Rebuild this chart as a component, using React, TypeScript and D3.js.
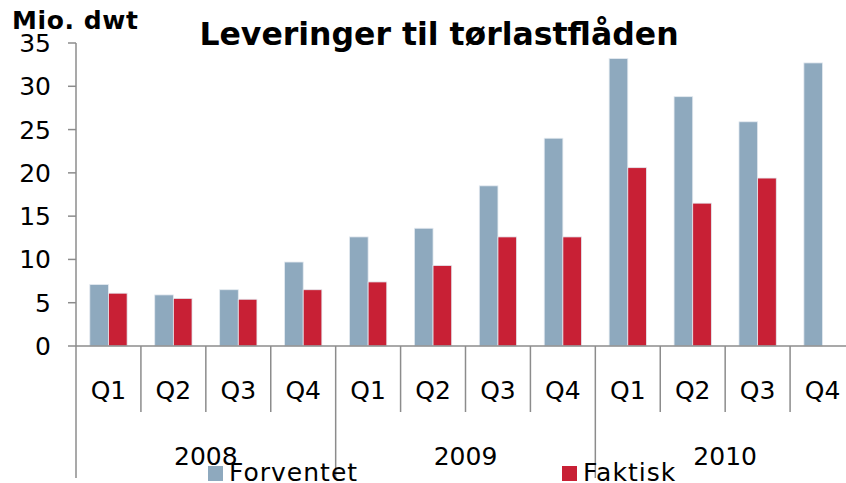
import React from "react";
import * as d3 from "d3";

const quarters = ["Q1", "Q2", "Q3", "Q4", "Q1", "Q2", "Q3", "Q4", "Q1", "Q2", "Q3", "Q4"];
const years = ["2008", "2009", "2010"];
const forventet = [7.1, 5.9, 6.5, 9.7, 12.6, 13.6, 18.5, 24.0, 33.2, 28.8, 25.9, 32.7];
const faktisk = [6.1, 5.5, 5.4, 6.5, 7.4, 9.3, 12.6, 12.6, 20.6, 16.5, 19.4, null];
const yTicks = [0, 5, 10, 15, 20, 25, 30, 35];
const seriesNames = ["Forventet", "Faktisk"];
const colors = ["#8EA9BE", "#C82035"];

const W = 846;
const H = 483;
const left = 76;
const right = 855;
const top = 43;
const bottom = 346;
const font = "'DejaVu Sans', Verdana, sans-serif";

export default function App() {
  const idx = quarters.map((_, i) => String(i));
  const x = d3.scaleBand<string>().domain(idx).range([left, right]).padding(0);
  const inner = d3
    .scaleBand<string>()
    .domain(seriesNames)
    .range([0, x.bandwidth()])
    .paddingInner(0)
    .paddingOuter(0.74);
  const y = d3.scaleLinear().domain([0, 35]).range([bottom, top]);
  const series = [forventet, faktisk];
  const axisColor = "#8c8c8c";

  return (
    <div style={{ position: "absolute", left: 0, top: 0 }}>
      <svg width={W} height={H} style={{ display: "block", fontFamily: font }}>
        <rect width={W} height={H} fill="#fff" />
        <text x={12} y={29} fontSize={25} fontWeight="bold" letterSpacing={0.6}>
          Mio. dwt
        </text>
        <text x={439} y={45} fontSize={31.5} fontWeight="bold" textAnchor="middle">
          Leveringer til tørlastflåden
        </text>

        {series.map((vals, s) =>
          vals.map((v, i) =>
            v == null ? null : (
              <rect
                key={s + "-" + i}
                x={(x(String(i)) as number) + (inner(seriesNames[s]) as number)}
                y={y(v)}
                width={inner.bandwidth()}
                height={y(0) - y(v)}
                fill={colors[s]}
                stroke="#e4eaf0"
                strokeWidth={0.8}
              />
            )
          )
        )}

        {/* y axis */}
        <line x1={left} x2={left} y1={top} y2={478} stroke={axisColor} strokeWidth={1.5} />
        {yTicks.map((t) => (
          <g key={t}>
            <line x1={left - 8} x2={left} y1={y(t)} y2={y(t)} stroke={axisColor} strokeWidth={1.5} />
            <text x={51} y={y(t)} dy="0.36em" fontSize={25} textAnchor="end">
              {t}
            </text>
          </g>
        ))}

        {/* x axis */}
        <line x1={left} x2={right} y1={bottom} y2={bottom} stroke={axisColor} strokeWidth={1.5} />
        {quarters.map((q, i) => {
          const x0 = x(String(i)) as number;
          const yearEdge = i % 4 === 0;
          return (
            <g key={i}>
              {i > 0 && (
                <line
                  x1={x0}
                  x2={x0}
                  y1={bottom}
                  y2={yearEdge ? 478 : 412}
                  stroke={axisColor}
                  strokeWidth={1.5}
                />
              )}
              <text x={x0 + x.bandwidth() / 2} y={399} fontSize={25} textAnchor="middle">
                {q}
              </text>
            </g>
          );
        })}
        {years.map((yr, k) => {
          const x0 = x(String(k * 4)) as number;
          const x1 = (x(String(k * 4 + 3)) as number) + x.bandwidth();
          return (
            <text key={yr} x={(x0 + x1) / 2} y={465} fontSize={25} textAnchor="middle">
              {yr}
            </text>
          );
        })}

        {/* legend */}
        {seriesNames.map((n, s) => {
          const lx = s === 0 ? 208 : 562;
          return (
            <g key={n}>
              <rect x={lx} y={466} width={15} height={15} fill={colors[s]} />
              <text x={lx + 21} y={481} fontSize={25} letterSpacing={1}>
                {n}
              </text>
            </g>
          );
        })}
      </svg>
    </div>
  );
}
